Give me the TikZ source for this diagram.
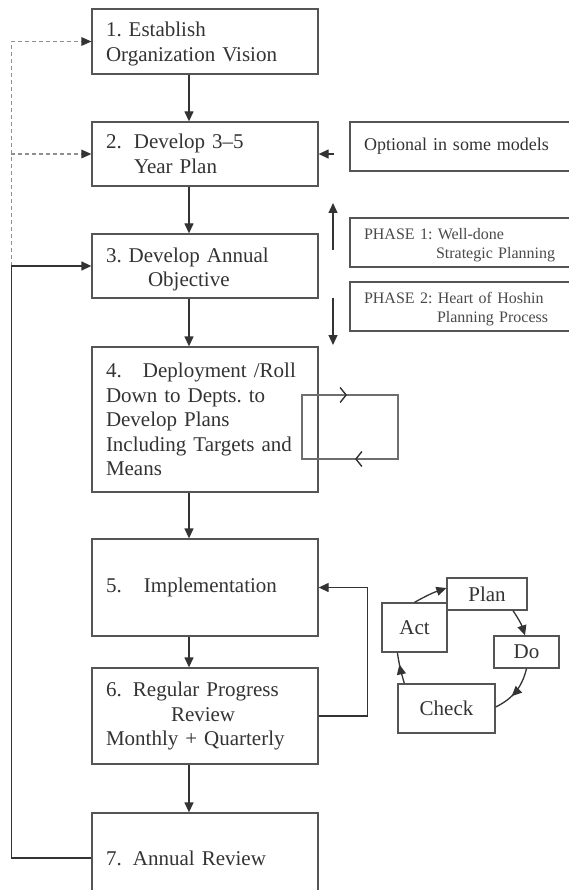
\documentclass[tikz,border=0pt]{standalone}
\usepackage{fontspec}
\setmainfont{Liberation Serif}
\usetikzlibrary{arrows.meta,decorations.markings}
\definecolor{inkline}{HTML}{555555}
\definecolor{inkarrow}{HTML}{333333}
\definecolor{inktext}{HTML}{333333}
\definecolor{inkphase}{HTML}{4A4A4A}
\definecolor{inkdash}{HTML}{8E8E8E}
\begin{document}
\frenchspacing
\begin{tikzpicture}[x=1pt,y=-1pt,
  every node/.style={font=\fontsize{21}{24.5}\selectfont, text=inktext},
  stepbox/.style={draw=inkline, line width=1.3pt, inner xsep=14pt, inner ysep=0pt,
    text width=198pt, align=left, minimum height=#1},
  sidebox/.style={draw=inkline, line width=1.3pt, inner xsep=14pt, inner ysep=0pt,
    text width=202pt, align=left, minimum height=49pt},
  phasetext/.style={font=\fontsize{16}{19}\selectfont, text=inkphase},
  cyclebox/.style={draw=inkline, line width=1.3pt, inner sep=0pt, align=center},
  tip/.style={-{Triangle[length=10pt,width=9pt]}},
  arr/.style={draw=inkarrow, line width=1.3pt, tip},
  dashline/.style={draw=inkdash, line width=1.1pt, dash pattern=on 4pt off 3pt},
  loopline/.style={draw=inkline!85, line width=1.3pt},
  midtip/.style={postaction={decorate}, decoration={markings,
    mark=at position #1 with {\arrow{Triangle[length=10pt,width=9pt]}}}},
]
\useasboundingbox (0,0) rectangle (569,890);
\clip (0,0) rectangle (569,890);
\fill[white] (0,0) rectangle (569,890);

% main process steps
\node[stepbox=65pt] (b1) at (205,41.5) {\rule{0pt}{20pt}1. Establish\\Organization Vision};
\node[stepbox=64pt] (b2) at (205,154) {\makebox[28pt][l]{2.}Develop 3--5\\\hspace*{28pt}Year Plan};
\node[stepbox=64pt] (b3) at (205,266) {\rule{0pt}{21pt}3. Develop Annual\\\hspace*{42pt}Objective};
\node[stepbox=145pt] (b4) at (205,419.5) {\makebox[37pt][l]{4.}Deployment /Roll\\Down to Depts. to\\Develop Plans\\Including Targets and\\Means};
\node[stepbox=97pt] (b5) at (205,587.5) {\makebox[38pt][l]{5.}Implementation};
\node[stepbox=96pt] (b6) at (205,716) {\makebox[27pt][l]{6.}Regular Progress\\\hspace*{65pt}Review\\Monthly + Quarterly};
\node[stepbox=90pt] (b7) at (205,858) {\makebox[27pt][l]{7.}Annual Review};

% downward flow
\foreach \a/\b in {b1/b2,b2/b3,b3/b4,b4/b5,b5/b6,b6/b7}
  \draw[arr] ([xshift=-16pt]\a.south) -- ([xshift=-16pt]\b.north);

% side notes
\node[sidebox, font=\fontsize{18}{21}\selectfont] (opt) at (465,146.5) {Optional in some models};
\node[sidebox, phasetext] (ph1) at (465,242.5) {\rule{0pt}{17pt}PHASE 1: Well-done\\\hspace*{72pt}Strategic Planning};
\node[sidebox, phasetext] (ph2) at (465,306.5) {\rule{0pt}{16pt}PHASE 2: Heart of Hoshin\\\hspace*{73pt}Planning Process};

\path (opt.west |- b2.east) ++(-15pt,0) coordinate (optend);
\draw[arr] (optend) -- (b2.east);

\coordinate (up0) at (333,250);
\coordinate (up1) at (333,203);
\coordinate (dn0) at (333,298);
\coordinate (dn1) at (333,345);
\draw[arr] (up0) -- (up1);
\draw[arr] (dn0) -- (dn1);

% feedback loops on the left
\path (b3.west) ++(-80pt,0) coordinate (fbk);
\draw[dashline] (fbk) -- (fbk |- b1.west) -- ([xshift=-9pt]b1.west);
\draw[dashline] (fbk |- b2.west) -- ([xshift=-9pt]b2.west);
\fill[inkarrow] (b1.west) -- ++(-10pt,-4.5pt) -- ++(0,9pt) -- cycle;
\fill[inkarrow] (b2.west) -- ++(-10pt,-4.5pt) -- ++(0,9pt) -- cycle;
\draw[arr] (b7.west) -| (fbk) -- (b3.west);

% review feeds back to implementation
\draw[arr] (b6.east) -- ++(49pt,0) |- (b5.east);

% deployment catch-ball loop
\draw[loopline, postaction={decorate}, decoration={markings,
    mark=at position 109pt with {\arrow[inkarrow]{Straight Barb[length=6pt,width=15pt,line width=1.4pt]}},
    mark=at position 267pt with {\arrow[inkarrow]{Straight Barb[length=6pt,width=15pt,line width=1.4pt]}}}]
  (302,459) -- (302,395) -- (398,395) -- (398,459) -- cycle;

% PDCA cycle
\node[cyclebox, minimum width=80pt, minimum height=32pt] (plan) at (487,594) {Plan};
\node[cyclebox, minimum width=65pt, minimum height=49pt] (act) at (414.5,627.5) {Act};
\node[cyclebox, minimum width=65pt, minimum height=32pt] (do) at (526.5,652) {Do};
\node[cyclebox, minimum width=97pt, minimum height=49pt] (check) at (446.5,708.5) {Check};

\draw[arr] (act.north) to[bend left=5] ([yshift=6pt]plan.west);
\draw[arr] ([xshift=26pt]plan.south) to[bend left=8] ([xshift=-1.5pt]do.north);
\draw[draw=inkarrow, line width=1.3pt, midtip=0.62] (do.south) to[bend left=25] ([yshift=1.5pt]check.east);
\draw[draw=inkarrow, line width=1.3pt, midtip=0.62] ([xshift=7pt]check.north west) to[bend left=4] ([xshift=16pt]act.south west);
\end{tikzpicture}
\end{document}
